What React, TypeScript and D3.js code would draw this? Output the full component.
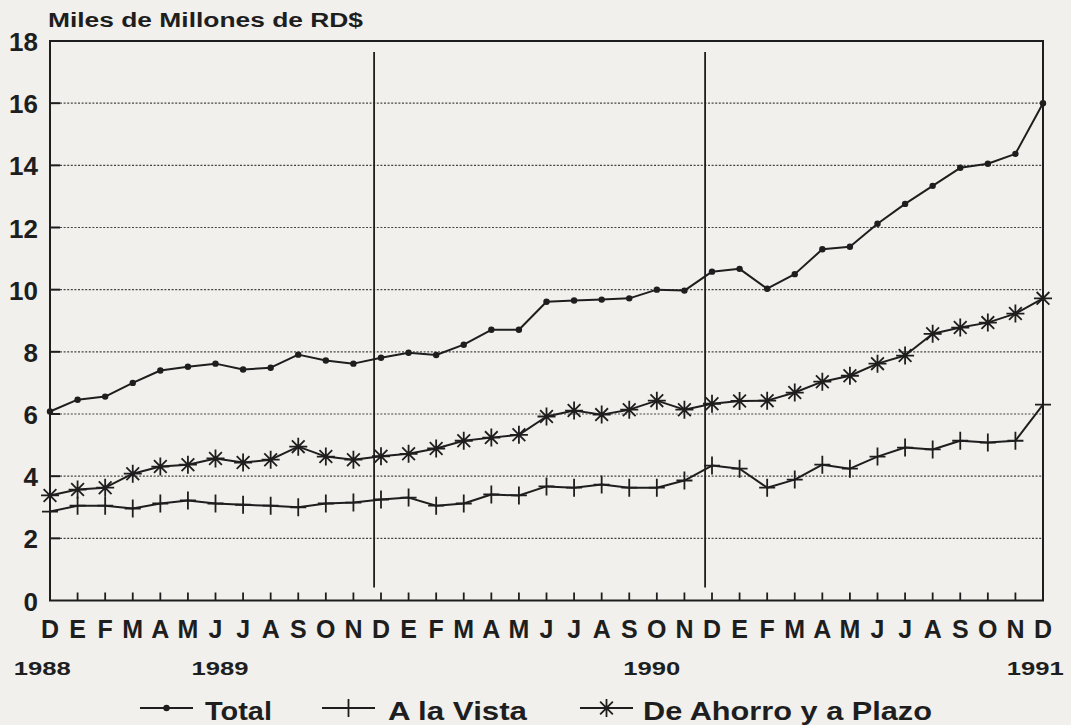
import React, { useEffect, useRef } from "react";
import * as d3 from "d3";

// months D 1988 .. D 1991
const months = [
    "D", "E", "F", "M", "A", "M", "J", "J", "A", "S", "O", "N",
    "D", "E", "F", "M", "A", "M", "J", "J", "A", "S", "O", "N",
    "D", "E", "F", "M", "A", "M", "J", "J", "A", "S", "O", "N",
    "D",
];

const total = [
    6.08, 6.46, 6.56, 7.0, 7.4, 7.52, 7.62, 7.43, 7.49, 7.91, 7.72, 7.62,
    7.81, 7.97, 7.9, 8.23, 8.71, 8.71, 9.61, 9.65, 9.68, 9.72, 10.0, 9.97,
    10.58, 10.67, 10.03, 10.5, 11.3, 11.38, 12.12, 12.76, 13.34, 13.92, 14.05, 14.37,
    16.0,
];

const aLaVista = [
    2.86, 3.05, 3.05, 2.96, 3.12, 3.22, 3.12, 3.08, 3.05, 3.0, 3.12, 3.15,
    3.25, 3.31, 3.05, 3.12, 3.41, 3.38, 3.67, 3.63, 3.73, 3.63, 3.63, 3.86,
    4.34, 4.24, 3.63, 3.89, 4.37, 4.24, 4.63, 4.92, 4.86, 5.14, 5.08, 5.14,
    6.3,
];

const deAhorro = [
    3.38, 3.57, 3.63, 4.08, 4.31, 4.37, 4.57, 4.44, 4.53, 4.95, 4.63, 4.53,
    4.64, 4.72, 4.89, 5.14, 5.24, 5.33, 5.92, 6.11, 5.98, 6.14, 6.43, 6.14,
    6.33, 6.42, 6.43, 6.69, 7.04, 7.23, 7.62, 7.88, 8.58, 8.78, 8.94, 9.23,
    9.72,
];

const yTicks = [0, 2, 4, 6, 8, 10, 12, 14, 16, 18];
const yearLabels = ["1988", "1989", "1990", "1991"];
const yearAt = [-0.3, 6.15, 21.8, 35.7];
const yearBreaks = [11.75, 23.75];

const W = 1071;
const H = 725;
const ink = "#1e1e1e";
const font = "'Liberation Sans', Arial, sans-serif";

const App = () => {
    const ref = useRef<SVGSVGElement>(null);

    useEffect(() => {
        if (!ref.current) return;
        document.body.style.margin = "0";
        const svg = d3.select(ref.current);
        svg.selectAll("*").remove();
        svg.attr("width", W).attr("height", H);

        svg.append("rect").attr("width", W).attr("height", H).attr("fill", "#f1f0ec");

        const x = d3.scaleLinear().domain([0, months.length - 1]).range([50, 1043]);
        const y = d3.scaleLinear().domain([0, 18]).range([600.5, 41]);

        // gridlines (dotted) with solid inner tick
        const grid = yTicks.filter((t) => t > 0 && t < 18);
        svg.selectAll(".grid")
            .data(grid)
            .enter()
            .append("line")
            .attr("x1", x(0) + 10)
            .attr("x2", x(36))
            .attr("y1", (d) => y(d))
            .attr("y2", (d) => y(d))
            .attr("stroke", "#444")
            .attr("stroke-width", 1.2)
            .attr("stroke-dasharray", "2 1.6");
        svg.selectAll(".ytick")
            .data(grid)
            .enter()
            .append("line")
            .attr("x1", x(0))
            .attr("x2", x(0) + 10)
            .attr("y1", (d) => y(d))
            .attr("y2", (d) => y(d))
            .attr("stroke", ink)
            .attr("stroke-width", 2);

        // frame
        svg.append("path")
            .attr("d", `M${x(0)},${y(18)}H${x(36)}V${y(0)}H${x(0)}Z`)
            .attr("fill", "none")
            .attr("stroke", ink)
            .attr("stroke-width", 2);

        // year separators
        svg.selectAll(".sep")
            .data(yearBreaks)
            .enter()
            .append("line")
            .attr("x1", (d) => x(d))
            .attr("x2", (d) => x(d))
            .attr("y1", y(18) + 11)
            .attr("y2", y(0) - 13)
            .attr("stroke", ink)
            .attr("stroke-width", 1.8);

        // x ticks
        svg.selectAll(".xtick")
            .data(months.slice(1, 36))
            .enter()
            .append("line")
            .attr("x1", (_, i) => x(i + 1))
            .attr("x2", (_, i) => x(i + 1))
            .attr("y1", y(0))
            .attr("y2", y(0) - 8)
            .attr("stroke", ink)
            .attr("stroke-width", 1.8);

        // y labels
        svg.selectAll(".ylab")
            .data(yTicks)
            .enter()
            .append("text")
            .attr("x", 38)
            .attr("y", (d) => y(d) + 10)
            .attr("text-anchor", "end")
            .attr("font-family", font)
            .attr("font-weight", "bold")
            .attr("font-size", 26)
            .attr("fill", ink)
            .text((d) => d);

        // month labels
        svg.selectAll(".mlab")
            .data(months)
            .enter()
            .append("text")
            .attr("x", (_, i) => x(i))
            .attr("y", 638)
            .attr("text-anchor", "middle")
            .attr("font-family", font)
            .attr("font-weight", "bold")
            .attr("font-size", 25)
            .attr("fill", ink)
            .text((d) => d);

        // year labels
        svg.selectAll(".ylabel")
            .data(yearLabels)
            .enter()
            .append("text")
            .attr("x", (_, i) => x(yearAt[i]) - 28)
            .attr("y", 675)
            .attr("textLength", 57)
            .attr("lengthAdjust", "spacingAndGlyphs")
            .attr("font-family", font)
            .attr("font-weight", "bold")
            .attr("font-size", 19)
            .attr("fill", ink)
            .text((d) => d);

        // title
        svg.append("text")
            .attr("x", 48)
            .attr("y", 27)
            .attr("textLength", 315)
            .attr("lengthAdjust", "spacingAndGlyphs")
            .attr("font-family", font)
            .attr("font-weight", "bold")
            .attr("font-size", 20)
            .attr("fill", ink)
            .text("Miles de Millones de RD$");

        const line = d3
            .line<number>()
            .x((_, i) => x(i))
            .y((d) => y(d));

        const drawSeries = (vals: number[]) =>
            svg.append("path")
                .datum(vals)
                .attr("d", line)
                .attr("fill", "none")
                .attr("stroke", ink)
                .attr("stroke-width", 2)
                .attr("stroke-linejoin", "round");

        drawSeries(total);
        drawSeries(aLaVista);
        drawSeries(deAhorro);

        const dot = (g: any, cx: number, cy: number) =>
            g.append("circle").attr("cx", cx).attr("cy", cy).attr("r", 3.2).attr("fill", ink);
        const plus = (g: any, cx: number, cy: number) =>
            g.append("path")
                .attr("d", `M${cx - 8},${cy}H${cx + 8}M${cx},${cy - 9}V${cy + 9}`)
                .attr("stroke", ink)
                .attr("stroke-width", 1.8)
                .attr("fill", "none");
        const star = (g: any, cx: number, cy: number) => {
            const r = 9;
            const a = r * Math.SQRT1_2;
            g.append("path")
                .attr(
                    "d",
                    `M${cx - r},${cy}H${cx + r}M${cx},${cy - r}V${cy + r}` +
                        `M${cx - a},${cy - a}L${cx + a},${cy + a}M${cx - a},${cy + a}L${cx + a},${cy - a}`
                )
                .attr("stroke", ink)
                .attr("stroke-width", 1.8)
                .attr("fill", "none");
        };

        const marks = svg.append("g");
        total.forEach((d, i) => dot(marks, x(i), y(d)));
        aLaVista.forEach((d, i) => plus(marks, x(i), y(d)));
        deAhorro.forEach((d, i) => star(marks, x(i), y(d)));

        // legend
        const legend = [
            { name: "Total", mark: dot, sx: 140, tx: 205, tl: 67 },
            { name: "A la Vista", mark: plus, sx: 322, tx: 388, tl: 139 },
            { name: "De Ahorro y a Plazo", mark: star, sx: 580, tx: 643, tl: 289 },
        ];
        const lg = svg.append("g");
        legend.forEach((l) => {
            lg.append("line")
                .attr("x1", l.sx)
                .attr("x2", l.sx + 53)
                .attr("y1", 708)
                .attr("y2", 708)
                .attr("stroke", ink)
                .attr("stroke-width", 2);
            l.mark(lg, l.sx + 26.5, 708);
            lg.append("text")
                .attr("x", l.tx)
                .attr("y", 720)
                .attr("textLength", l.tl)
                .attr("lengthAdjust", "spacingAndGlyphs")
                .attr("font-family", font)
                .attr("font-weight", "bold")
                .attr("font-size", 25)
                .attr("fill", ink)
                .text(l.name);
        });
    }, []);

    return <svg ref={ref} style={{ display: "block" }} />;
};

export default App;
